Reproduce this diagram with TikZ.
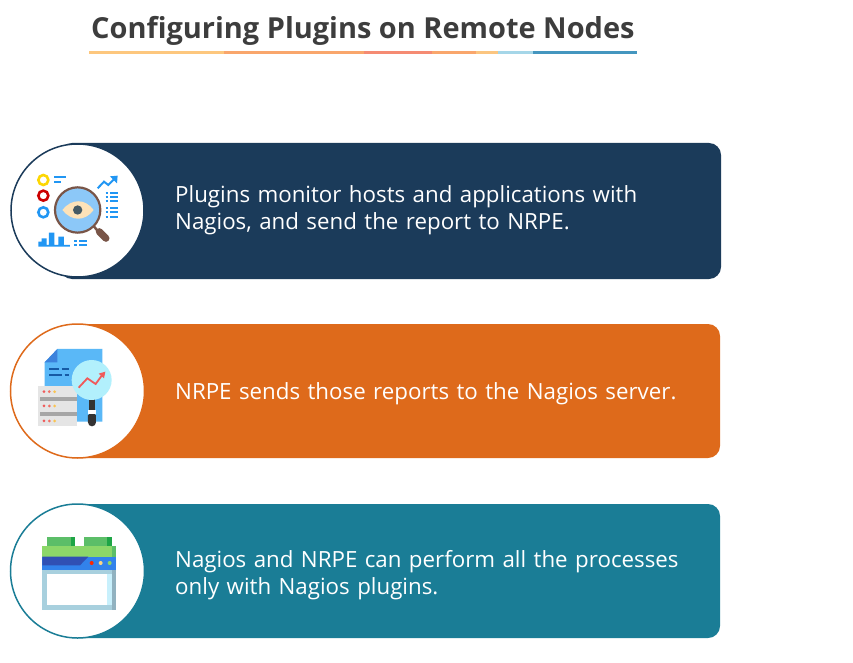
\documentclass[tikz,border=0pt]{standalone}
\usepackage{fontspec}
\setmainfont{Open Sans}
\definecolor{navy}{HTML}{1B3B5A}
\definecolor{orng}{HTML}{DE6A1B}
\definecolor{teal2}{HTML}{1A7D96}
\definecolor{blueA}{HTML}{2196F3}
\definecolor{brownA}{HTML}{795548}
\definecolor{lensA}{HTML}{8CC8F8}
\definecolor{eyeA}{HTML}{FDE2B8}
\definecolor{pupilA}{HTML}{455A64}
\definecolor{docA}{HTML}{5AB8F7}
\definecolor{docB}{HTML}{3C82DC}
\definecolor{docC}{HTML}{165AA5}
\definecolor{redA}{HTML}{F06E64}
\definecolor{yelA}{HTML}{FAC350}
\definecolor{lensB}{HTML}{B2F0FC}
\definecolor{redB}{HTML}{F05A5A}
\definecolor{grnA}{HTML}{5CBE68}
\definecolor{grnB}{HTML}{1EA546}
\definecolor{grnC}{HTML}{8CD769}
\definecolor{blueB}{HTML}{3282EB}
\definecolor{blueC}{HTML}{3050B4}
\definecolor{winA}{HTML}{A8D0DE}
\definecolor{winB}{HTML}{91B2C0}
\definecolor{winC}{HTML}{C8F0FC}
\tikzset{
  bar/.style={fill=#1,rounded corners=12pt},
  disc/.style={draw=#1,fill=white,line width=1.5pt},
  body/.style={anchor=north west,align=left,text=white,font=\fontsize{22.3pt}{27.5pt}\selectfont,inner sep=0pt,text width=560pt},
  ttl/.style={anchor=west,inner sep=0pt,text=black!76,font=\fontsize{28.95pt}{32pt}\selectfont\bfseries},
  zoomed/.style={x=0.3333pt,y=-0.3333pt,xshift=0pt,yshift=-#1 pt},
  ln/.style={draw=blueA,line width=2pt},
}
\begin{document}
\begin{tikzpicture}[x=1pt,y=-1pt]
\useasboundingbox (0,0) rectangle (853,663);
\node[ttl] (title) at (91,31) {Configuring Plugins on Remote Nodes};
% underline
\foreach \a/\b/\c in {89/224/FDC77E,224/364/F9A66C,364/432/F58B73,432/476/F9A66C,476/498/FBC580,498/533/A5D6E8,533/637/4496BF}{
  \definecolor{tmp}{HTML}{\c}
  \fill[tmp] (\a,51.5) rectangle (\b,54);
}
% bars
\fill[bar=navy] (60,143) rectangle (721,279);
\fill[bar=orng] (60,324) rectangle (720,458);
\fill[bar=teal2] (60,504) rectangle (720,638);
\draw[disc=navy] (77.5,210.5) circle (66.5);
\draw[disc=orng] (77.5,391) circle (67);
\draw[disc=teal2] (77.5,571) circle (67);
% texts
\node[body] (t1) at (175,185) {Plugins monitor hosts and applications with\\Nagios, and send the report to NRPE.};
\node[body] (t2) at (175,382) {NRPE sends those reports to the Nagios server.};
\node[body] (t3) at (175,550) {Nagios and NRPE can perform all the processes\\only with Nagios plugins.};
% icon 1
\begin{scope}[zoomed=135]
  \draw[line width=2.6pt,draw=yellow!75!orange] (130,135) circle (15);
  \draw[line width=2.6pt,draw=red!80!black] (130,182) circle (15);
  \draw[line width=2.6pt,draw=blueA] (130,232) circle (15);
  \draw[ln] (163,125) -- (198,125) (163,140) -- (183,140);
  \draw[ln,line width=2pt] (293,160) -- (312,140) -- (325,150) -- (348,127);
  \fill[blueA] (353,122) -- (330,124) -- (351,145) -- cycle;
  \foreach \y in {175,187,199,218,232,247}{
    \draw[ln] (317,\y) -- (323,\y) (331,\y) -- (354,\y);
  }
  \fill[blueA] (115,335) -- (115,320) -- (125,320) -- (125,310) -- (140,310) -- (140,330) -- (147,330) -- (147,293) -- (163,293) -- (163,330) -- (175,330) -- (175,305) -- (192,305) -- (192,330) -- (210,330) -- (210,335) -- cycle;
  \foreach \y in {317,331}{
    \draw[ln] (223,\y) -- (231,\y) (238,\y) -- (260,\y);
  }
  \draw[line width=2.5pt,draw=brownA] (280,272) -- (295,290);
  \draw[line width=7pt,draw=brownA,line cap=round] (298,290) -- (318,310);
  \fill[lensA] (233,225) circle (68);
  \draw[line width=2.2pt,draw=brownA] (233,225) circle (68);
  \fill[eyeA] (187,225) .. controls (215,190) and (255,190) .. (281,225) .. controls (255,260) and (215,260) .. (187,225) -- cycle;
  \fill[pupilA] (233,225) circle (14);
\end{scope}
% icon 2
\begin{scope}[zoomed=315]
  \fill[docA] (172,102) -- (307,102) -- (307,320) -- (134,320) -- (134,142) -- cycle;
  \fill[docB] (172,102) -- (172,142) -- (134,142) -- cycle;
  \draw[draw=docC,line width=2pt] (148,161) -- (176,161) (186,161) -- (208,161) (148,179) -- (186,179) (194,179) -- (208,179);
  \fill[black!10] (113,214) rectangle (232,332);
  \fill[black!35] (120,245) rectangle (232,258);
  \fill[black!35] (120,290) rectangle (232,303);
  \foreach \y in {230,273,318}{
    \fill[redB] (132,\y) circle (4.5);
    \fill[redA] (148,\y) circle (4.5);
    \fill[yelA] (164,\y) circle (4.5);
  }
  \fill[black!80] (264,300) -- (264,322) arc (180:0:12) -- (288,300) -- cycle;
  \fill[black!80] (267,250) rectangle (285,300);
  \fill[white] (264,285) rectangle (288,297);
  \fill[lensB] (275,195) circle (60);
  \draw[draw=redB,line width=1.8pt] (236,218) -- (262,190) -- (287,207) -- (308,178);
  \fill[redB] (316,170) -- (296,176) -- (312,190) -- cycle;
\end{scope}
% icon 3
\begin{scope}[zoomed=495]
  \fill[grnA] (140,125) rectangle (225,155);
  \fill[grnB] (212,125) rectangle (225,155);
  \fill[grnA] (252,125) rectangle (335,155);
  \fill[grnB] (322,125) rectangle (335,155);
  \fill[grnC] (127,152) rectangle (349,186);
  \fill[grnA] (336,152) rectangle (349,186);
  \fill[blueB] (127,185) rectangle (349,225);
  \fill[blueC] (127,185) -- (265,185) -- (240,211) -- (127,211) -- cycle;
  \fill[red!85!yellow] (275,204) circle (6);
  \fill[yelA!70!white] (302,204) circle (6);
  \fill[grnC] (329,204) circle (6);
  \fill[winA] (127,225) rectangle (349,345);
  \fill[winB] (336,225) rectangle (349,345);
  \fill[winC] (140,237) rectangle (336,331);
  \fill[white] (140,237) rectangle (322,331);
\end{scope}
\end{tikzpicture}
\end{document}
